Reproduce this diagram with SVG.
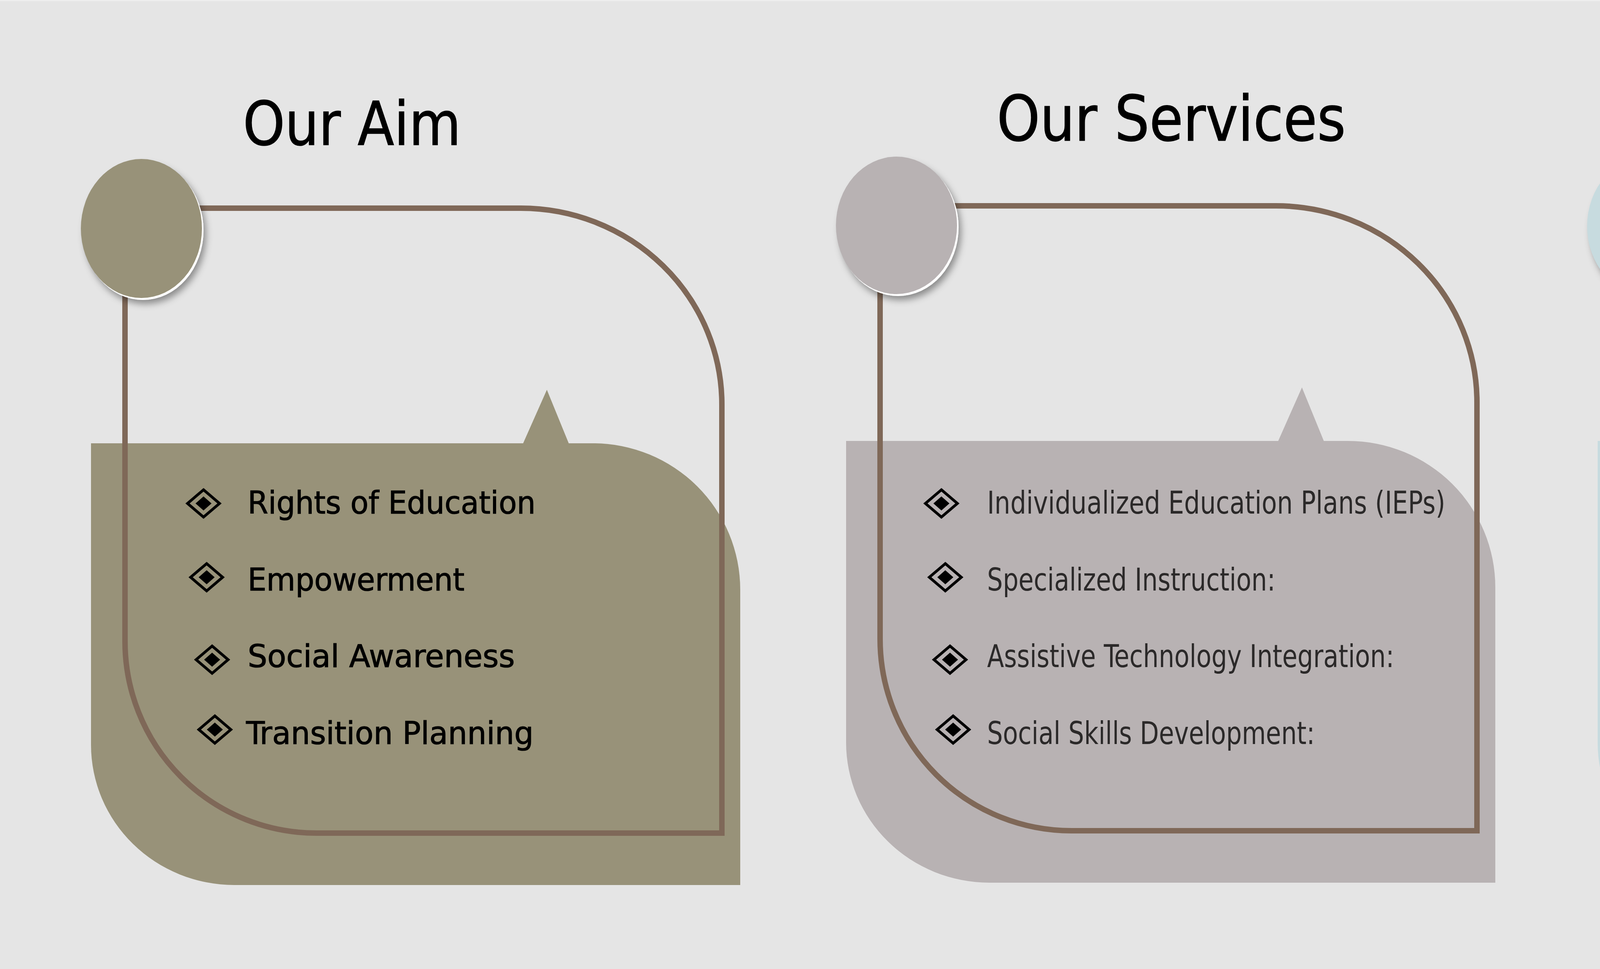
<svg xmlns="http://www.w3.org/2000/svg" xmlns:xlink="http://www.w3.org/1999/xlink" width="5906" height="2481" viewBox="0 0 5906 2481">
  <defs>
    <style>
      .title { font-family: 'DejaVu Sans Condensed', 'Liberation Sans Narrow', 'Liberation Sans', sans-serif; font-size: 155px; fill: #000; stroke: #000; stroke-width: 1.5; }
      .item { font-family: 'DejaVu Sans Condensed', 'Liberation Sans Narrow', 'Liberation Sans', sans-serif; font-size: 80px; }
      .p1 { fill: #000; stroke: #000; stroke-width: 1.2; }
      .p2 { fill: #2b2929; }
      .p3 { font-size: 71px; fill: #111; stroke: #111; stroke-width: 1; }
      .outline { fill: none; stroke: #7f6858; stroke-width: 14; }
    </style>
    <filter id="shadow" x="-30%" y="-30%" width="160%" height="160%">
      <feDropShadow dx="6" dy="10" stdDeviation="9" flood-color="#000" flood-opacity="0.4"/>
    </filter>
    <g id="dia">
      <polygon points="0,-35 41,0 0,35 -41,0" fill="none" stroke="#000" stroke-width="7"/>
      <polygon points="0,-18 20.5,0 0,18 -20.5,0" fill="#000"/>
    </g>
    <path id="fillShape" d="M 233 1135 H 1518 A 377 375 0 0 1 1895 1510 V 2266 H 600 A 367 359 0 0 1 233 1907 Z"/>
    <polygon id="tri" points="1337,1140 1400,998 1458,1140"/>
    <path id="outlinePath" d="M 500 533 H 1333 A 515 503 0 0 1 1848 1036 V 2133 H 810 A 490 491 0 0 1 320 1642 V 700"/>
  </defs>

  <rect x="0" y="0" width="5906" height="2481" fill="#e5e5e5"/>
  <rect x="0" y="0" width="5906" height="3" fill="#eeeeee"/>

  <!-- Panel 1: Our Aim -->
  <g id="panel-aim">
    <g fill="#989279">
      <use xlink:href="#fillShape"/>
      <use xlink:href="#tri"/>
    </g>
    <use xlink:href="#outlinePath" class="outline"/>
    <ellipse cx="366" cy="590" rx="155" ry="178" fill="#ffffff" filter="url(#shadow)"/>
    <ellipse cx="362" cy="585" rx="155" ry="178" fill="#989279"/>
    <text class="title" x="622" y="371" textLength="558" lengthAdjust="spacingAndGlyphs">Our Aim</text>
    <use xlink:href="#dia" x="521" y="1289"/>
    <use xlink:href="#dia" x="529" y="1478"/>
    <use xlink:href="#dia" x="543" y="1689"/>
    <use xlink:href="#dia" x="550" y="1868"/>
    <text class="item p1" x="634" y="1315" textLength="737" lengthAdjust="spacingAndGlyphs">Rights of Education</text>
    <text class="item p1" x="634" y="1512" textLength="555" lengthAdjust="spacingAndGlyphs">Empowerment</text>
    <text class="item p1" x="634" y="1708" textLength="684" lengthAdjust="spacingAndGlyphs">Social Awareness</text>
    <text class="item p1" x="630" y="1905" textLength="736" lengthAdjust="spacingAndGlyphs">Transition Planning</text>
  </g>

  <!-- Panel 2: Our Services -->
  <g id="panel-services">
    <g transform="translate(1933,-6)">
      <g fill="#b8b2b3">
        <use xlink:href="#fillShape"/>
        <use xlink:href="#tri"/>
      </g>
      <use xlink:href="#outlinePath" class="outline"/>
    </g>
    <ellipse cx="2299" cy="582" rx="155" ry="176" fill="#ffffff" filter="url(#shadow)"/>
    <ellipse cx="2295" cy="577" rx="155" ry="176" fill="#b8b2b3"/>
    <text class="title" x="2552" y="360" textLength="893" lengthAdjust="spacingAndGlyphs" style="font-size:160px">Our Services</text>
    <use xlink:href="#dia" x="2410" y="1289"/>
    <use xlink:href="#dia" x="2420" y="1478"/>
    <use xlink:href="#dia" x="2432" y="1689"/>
    <use xlink:href="#dia" x="2440" y="1868"/>
    <text class="item p2" x="2527" y="1315" textLength="1173" lengthAdjust="spacingAndGlyphs">Individualized Education Plans (IEPs)</text>
    <text class="item p2" x="2527" y="1512" textLength="738" lengthAdjust="spacingAndGlyphs">Specialized Instruction:</text>
    <text class="item p2" x="2527" y="1708" textLength="1042" lengthAdjust="spacingAndGlyphs">Assistive Technology Integration:</text>
    <text class="item p2" x="2527" y="1905" textLength="839" lengthAdjust="spacingAndGlyphs">Social Skills Development:</text>
  </g>

  <!-- Panel 3: Our Approch -->
  <g id="panel-approach">
    <g transform="translate(3857,-6)">
      <g fill="#c7dbdf">
        <use xlink:href="#fillShape"/>
        <use xlink:href="#tri"/>
      </g>
      <use xlink:href="#outlinePath" class="outline"/>
    </g>
    <ellipse cx="4222" cy="584" rx="155" ry="178" fill="#ffffff" filter="url(#shadow)"/>
    <ellipse cx="4218" cy="579" rx="155" ry="178" fill="#c7dbdf"/>
    <text class="title" x="4480" y="365" textLength="876" lengthAdjust="spacingAndGlyphs">Our Approch</text>
    <use xlink:href="#dia" x="4346" y="1289"/>
    <use xlink:href="#dia" x="4354" y="1478"/>
    <use xlink:href="#dia" x="4367" y="1689"/>
    <use xlink:href="#dia" x="4375" y="1868"/>
    <text class="item p3" x="4471" y="1298" textLength="746" lengthAdjust="spacingAndGlyphs">Personalized Learning</text>
    <text class="item p3" x="4471" y="1500" textLength="704" lengthAdjust="spacingAndGlyphs">Holistic Development</text>
    <text class="item p3" x="4471" y="1697" textLength="893" lengthAdjust="spacingAndGlyphs">Collaborative Partnerships</text>
    <text class="item p3" x="4471" y="1890" textLength="736" lengthAdjust="spacingAndGlyphs">Innovative Instruction:</text>
  </g>
</svg>
